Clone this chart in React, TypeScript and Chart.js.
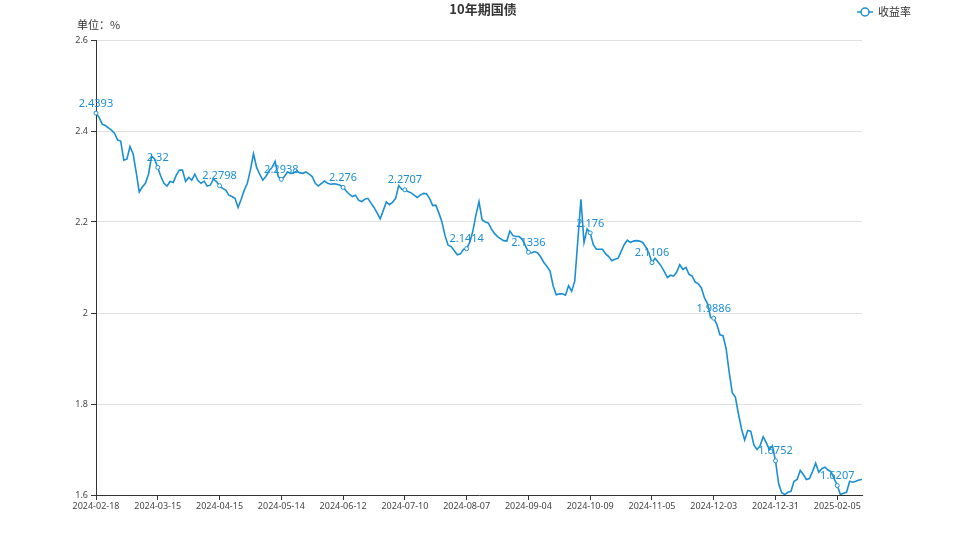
import React, { useEffect, useRef } from "react";
import { Chart, registerables } from "chart.js";

Chart.register(...registerables);

const TITLE = "10年期国债";
const UNIT = "单位：%";
const SERIES_NAME = "收益率";

const dates: string[] = [
  "2024-02-18", "2024-02-19", "2024-02-20", "2024-02-21", "2024-02-22", "2024-02-23",
  "2024-02-26", "2024-02-27", "2024-02-28", "2024-02-29", "2024-03-01",
  "2024-03-04", "2024-03-05", "2024-03-06", "2024-03-07", "2024-03-08",
  "2024-03-11", "2024-03-12", "2024-03-13", "2024-03-14", "2024-03-15",
  "2024-03-18", "2024-03-19", "2024-03-20", "2024-03-21", "2024-03-22",
  "2024-03-25", "2024-03-26", "2024-03-27", "2024-03-28", "2024-03-29",
  "2024-04-01", "2024-04-02", "2024-04-03", "2024-04-07",
  "2024-04-08", "2024-04-09", "2024-04-10", "2024-04-11", "2024-04-12",
  "2024-04-15", "2024-04-16", "2024-04-17", "2024-04-18", "2024-04-19",
  "2024-04-22", "2024-04-23", "2024-04-24", "2024-04-25", "2024-04-26",
  "2024-04-28", "2024-04-29", "2024-04-30",
  "2024-05-06", "2024-05-07", "2024-05-08", "2024-05-09", "2024-05-10", "2024-05-11",
  "2024-05-13", "2024-05-14", "2024-05-15", "2024-05-16", "2024-05-17",
  "2024-05-20", "2024-05-21", "2024-05-22", "2024-05-23", "2024-05-24",
  "2024-05-27", "2024-05-28", "2024-05-29", "2024-05-30", "2024-05-31",
  "2024-06-03", "2024-06-04", "2024-06-05", "2024-06-06", "2024-06-07",
  "2024-06-11", "2024-06-12", "2024-06-13", "2024-06-14",
  "2024-06-17", "2024-06-18", "2024-06-19", "2024-06-20", "2024-06-21",
  "2024-06-24", "2024-06-25", "2024-06-26", "2024-06-27", "2024-06-28",
  "2024-07-01", "2024-07-02", "2024-07-03", "2024-07-04", "2024-07-05",
  "2024-07-08", "2024-07-09", "2024-07-10", "2024-07-11", "2024-07-12",
  "2024-07-15", "2024-07-16", "2024-07-17", "2024-07-18", "2024-07-19",
  "2024-07-22", "2024-07-23", "2024-07-24", "2024-07-25", "2024-07-26",
  "2024-07-29", "2024-07-30", "2024-07-31", "2024-08-01", "2024-08-02",
  "2024-08-05", "2024-08-06", "2024-08-07", "2024-08-08", "2024-08-09",
  "2024-08-12", "2024-08-13", "2024-08-14", "2024-08-15", "2024-08-16",
  "2024-08-19", "2024-08-20", "2024-08-21", "2024-08-22", "2024-08-23",
  "2024-08-26", "2024-08-27", "2024-08-28", "2024-08-29", "2024-08-30",
  "2024-09-02", "2024-09-03", "2024-09-04", "2024-09-05", "2024-09-06",
  "2024-09-09", "2024-09-10", "2024-09-11", "2024-09-12", "2024-09-13", "2024-09-14",
  "2024-09-18", "2024-09-19", "2024-09-20",
  "2024-09-23", "2024-09-24", "2024-09-25", "2024-09-26", "2024-09-27",
  "2024-09-29", "2024-09-30", "2024-10-08", "2024-10-09", "2024-10-10", "2024-10-11", "2024-10-12",
  "2024-10-14", "2024-10-15", "2024-10-16", "2024-10-17", "2024-10-18",
  "2024-10-21", "2024-10-22", "2024-10-23", "2024-10-24", "2024-10-25",
  "2024-10-28", "2024-10-29", "2024-10-30", "2024-10-31", "2024-11-01",
  "2024-11-04", "2024-11-05", "2024-11-06", "2024-11-07", "2024-11-08",
  "2024-11-11", "2024-11-12", "2024-11-13", "2024-11-14", "2024-11-15",
  "2024-11-18", "2024-11-19", "2024-11-20", "2024-11-21", "2024-11-22",
  "2024-11-25", "2024-11-26", "2024-11-27", "2024-11-28", "2024-11-29",
  "2024-12-02", "2024-12-03", "2024-12-04", "2024-12-05", "2024-12-06",
  "2024-12-09", "2024-12-10", "2024-12-11", "2024-12-12", "2024-12-13",
  "2024-12-16", "2024-12-17", "2024-12-18", "2024-12-19", "2024-12-20",
  "2024-12-23", "2024-12-24", "2024-12-25", "2024-12-26", "2024-12-27",
  "2024-12-30", "2024-12-31", "2025-01-02", "2025-01-03",
  "2025-01-06", "2025-01-07", "2025-01-08", "2025-01-09", "2025-01-10",
  "2025-01-13", "2025-01-14", "2025-01-15", "2025-01-16", "2025-01-17",
  "2025-01-20", "2025-01-21", "2025-01-22", "2025-01-23", "2025-01-24",
  "2025-01-26", "2025-01-27", "2025-02-05", "2025-02-06", "2025-02-07", "2025-02-08",
  "2025-02-10", "2025-02-11", "2025-02-12", "2025-02-13", "2025-02-14",
];

const yields: number[] = [
  // 0-20
  2.4393, 2.43, 2.415, 2.412, 2.407, 2.402, 2.395, 2.38, 2.378, 2.336,
  2.338, 2.366, 2.35, 2.31, 2.266, 2.277, 2.285, 2.305, 2.345, 2.338,
  2.32,
  // 21-40
  2.3, 2.285, 2.279, 2.289, 2.287, 2.303, 2.314, 2.314, 2.289, 2.298,
  2.292, 2.305, 2.291, 2.285, 2.29, 2.279, 2.281, 2.294, 2.289, 2.2798,
  // 41-60
  2.274, 2.27, 2.259, 2.256, 2.252, 2.232, 2.25, 2.27, 2.285, 2.315,
  2.35, 2.32, 2.305, 2.292, 2.3, 2.312, 2.32, 2.333, 2.3, 2.2938,
  // 61-80
  2.3, 2.31, 2.307, 2.308, 2.312, 2.308, 2.307, 2.31, 2.305, 2.3,
  2.285, 2.279, 2.285, 2.29, 2.285, 2.283, 2.284, 2.283, 2.281, 2.276,
  // 81-100
  2.268, 2.261, 2.256, 2.259, 2.248, 2.245, 2.25, 2.252, 2.242, 2.232,
  2.22, 2.207, 2.225, 2.244, 2.238, 2.243, 2.252, 2.28, 2.272, 2.2707,
  // 101-120
  2.267, 2.264, 2.259, 2.254, 2.259, 2.263, 2.262, 2.252, 2.236, 2.237,
  2.22, 2.2, 2.17, 2.149, 2.146, 2.137, 2.128, 2.13, 2.14, 2.1414,
  // 121-140
  2.155, 2.18, 2.215, 2.245, 2.205, 2.2, 2.198, 2.185, 2.175, 2.168,
  2.163, 2.159, 2.158, 2.18, 2.17, 2.168, 2.168, 2.162, 2.148, 2.1336,
  // 141-160
  2.132, 2.135, 2.132, 2.123, 2.111, 2.102, 2.092, 2.06, 2.04, 2.042,
  2.042, 2.039, 2.06, 2.048, 2.07, 2.16, 2.25, 2.155, 2.185, 2.176,
  // 161-180
  2.15, 2.14, 2.14, 2.14, 2.13, 2.124, 2.115, 2.118, 2.12, 2.135,
  2.15, 2.16, 2.155, 2.158, 2.159, 2.158, 2.155, 2.145, 2.132, 2.1106,
  // 181-200
  2.12, 2.112, 2.103, 2.091, 2.078, 2.083, 2.081, 2.09, 2.106, 2.096,
  2.1, 2.085, 2.081, 2.068, 2.064, 2.055, 2.033, 2.02, 1.99, 1.9886,
  // 201-220
  1.975, 1.952, 1.95, 1.922, 1.87, 1.825, 1.815, 1.778, 1.745, 1.721,
  1.742, 1.74, 1.71, 1.7, 1.708, 1.728, 1.715, 1.7, 1.708, 1.6752,
  // 221-240
  1.625, 1.605, 1.601, 1.606, 1.608, 1.63, 1.634, 1.654, 1.645, 1.634,
  1.636, 1.652, 1.67, 1.65, 1.658, 1.661, 1.655, 1.651, 1.636, 1.6207,
  // 241-248
  1.601, 1.604, 1.606, 1.63, 1.628, 1.63, 1.633, 1.634,
];

const yTicks: number[] = [1.6, 1.8, 2.0, 2.2, 2.4, 2.6];
const LABEL_EVERY = 20;

const LINE_COLOR = "#1b8fd2";

const overlayPlugin = {
  id: "overlay",
  afterDatasetsDraw(chart: any) {
    const ctx = chart.ctx;
    const meta = chart.getDatasetMeta(0);
    ctx.save();
    ctx.font = "11px 'Noto Sans', sans-serif";
    ctx.fillStyle = LINE_COLOR;
    ctx.textAlign = "center";
    ctx.textBaseline = "bottom";
    meta.data.forEach((pt: any, i: number) => {
      if (i % LABEL_EVERY === 0) {
        ctx.fillText(String(yields[i]), pt.x, pt.y - 4);
      }
    });
    ctx.restore();
  },
  afterDraw(chart: any) {
    const ctx = chart.ctx;
    ctx.save();
    ctx.font = "bold 13px 'Noto Sans CJK SC', sans-serif";
    ctx.fillStyle = "#333";
    ctx.textAlign = "center";
    ctx.textBaseline = "middle";
    ctx.fillText(TITLE, 483, 9);
    ctx.font = "11px 'Noto Sans CJK SC', sans-serif";
    ctx.textAlign = "left";
    ctx.fillStyle = "#333";
    ctx.fillText(UNIT, 77, 25);
    ctx.strokeStyle = LINE_COLOR;
    ctx.lineWidth = 1.5;
    ctx.beginPath();
    ctx.moveTo(857, 12);
    ctx.lineTo(873, 12);
    ctx.stroke();
    ctx.beginPath();
    ctx.arc(865, 12, 4, 0, Math.PI * 2);
    ctx.fillStyle = "#fff";
    ctx.fill();
    ctx.stroke();
    ctx.fillStyle = "#333";
    ctx.font = "11px 'Noto Sans CJK SC', sans-serif";
    ctx.fillText(SERIES_NAME, 878, 12);
    ctx.restore();
  },
};

export default function App() {
  const ref = useRef<HTMLCanvasElement>(null);
  useEffect(() => {
    if (!ref.current) return;
    const chart = new Chart(ref.current, {
      type: "line",
      data: {
        labels: dates,
        datasets: [
          {
            label: SERIES_NAME,
            data: yields,
            borderColor: LINE_COLOR,
            borderWidth: 1.6,
            tension: 0,
            pointRadius: (c: any) => (c.dataIndex % LABEL_EVERY === 0 ? 2 : 0),
            pointBackgroundColor: "#fff",
            pointBorderColor: LINE_COLOR,
            pointBorderWidth: 1,
            pointHoverRadius: 0,
          },
        ],
      },
      options: {
        animation: false,
        responsive: false,
        maintainAspectRatio: false,
        layout: { padding: { left: 50, right: 96, top: 40, bottom: 14 } },
        plugins: {
          legend: { display: false },
          title: { display: false },
          tooltip: { enabled: false },
        },
        scales: {
          x: {
            type: "category",
            offset: false,
            afterFit: (s: any) => {
              s.height = 30;
            },
            border: { display: true, color: "#333", width: 1 },
            grid: {
              drawOnChartArea: false,
              drawTicks: true,
              tickLength: 5,
              color: (c: any) => (c.index % LABEL_EVERY === 0 ? "#333" : "rgba(0,0,0,0)"),
              tickColor: (c: any) => (c.index % LABEL_EVERY === 0 ? "#333" : "rgba(0,0,0,0)"),
            },
            ticks: {
              autoSkip: false,
              maxRotation: 0,
              minRotation: 0,
              padding: 1,
              color: "#444",
              font: { size: 9, family: "'Noto Sans', 'DejaVu Sans', sans-serif" },
              callback: (_v: any, i: number) => (i % LABEL_EVERY === 0 ? dates[i] : ""),
            },
          },
          y: {
            min: 1.6,
            max: 2.6,
            afterFit: (s: any) => {
              s.width = 46;
            },
            afterBuildTicks: (s: any) => {
              s.ticks = yTicks.map((v) => ({ value: v }));
            },
            border: { display: true, color: "#333", width: 1 },
            grid: {
              color: "#e0e0e0",
              tickColor: "#333",
              tickLength: 5,
            },
            ticks: {
              color: "#444",
              padding: 3,
              font: { size: 9, family: "'Noto Sans', 'DejaVu Sans', sans-serif" },
              callback: (v: any) => String(Number(Number(v).toFixed(1))),
            },
          },
        },
      },
      plugins: [overlayPlugin],
    });
    return () => chart.destroy();
  }, []);
  return (
    <div style={{ position: "fixed", left: 0, top: 0, width: 958, height: 539, background: "#fff" }}>
      <canvas ref={ref} width={958} height={539} style={{ width: 958, height: 539 }} />
    </div>
  );
}
